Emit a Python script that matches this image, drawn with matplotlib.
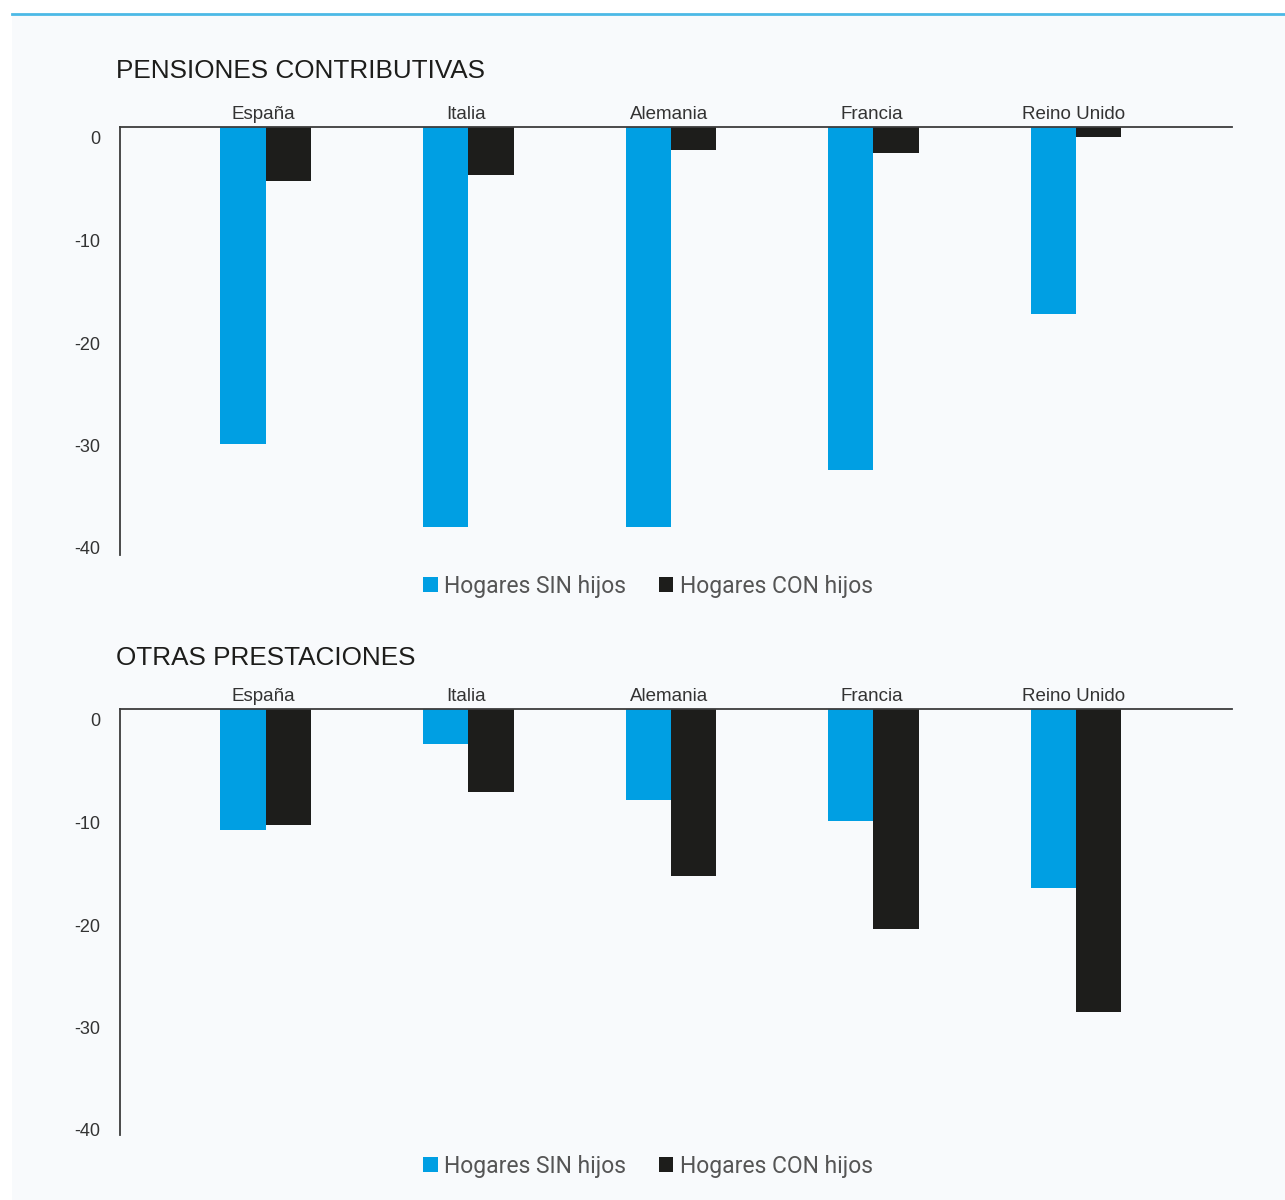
import matplotlib
matplotlib.use("Agg")
import matplotlib.pyplot as plt
import matplotlib.transforms as mtransforms
from matplotlib.patches import Patch, Rectangle
from matplotlib.lines import Line2D
import numpy as np

countries = ["España", "Italia", "Alemania", "Francia", "Reino Unido"]
series_names = ["Hogares SIN hijos", "Hogares CON hijos"]

pensiones_sin = [-30.9, -39.0, -39.0, -33.5, -18.2]
pensiones_con = [-5.3, -4.7, -2.2, -2.5, -0.95]

otras_sin = [-11.8, -3.4, -8.9, -10.9, -17.5]
otras_con = [-11.3, -8.1, -16.3, -21.5, -29.6]

panel_titles = ["PENSIONES CONTRIBUTIVAS", "OTRAS PRESTACIONES"]
y_ticks = [0, -10, -20, -30, -40]

BLUE = "#009fe3"
BLACK = "#1d1d1b"
PANEL_BG = "#f8fafc"
TEXT = "#1d1d1b"

W, H = 1285, 1200
fig = plt.figure(figsize=(W / 100, H / 100), dpi=100, facecolor="white")

# background panel and top accent line
fig.patches.append(Rectangle((12 / W, 0), 1 - 12 / W, 1 - 15 / H,
                             transform=fig.transFigure, facecolor=PANEL_BG,
                             edgecolor="none", zorder=-5))
fig.lines.append(Line2D([12 / W, 1], [1 - 14 / H, 1 - 14 / H],
                        transform=fig.transFigure, color="#4cb9e6", lw=2,
                        zorder=-4))

main_font = ["Liberation Sans", "DejaVu Sans"]
legend_font = ["Roboto", "DejaVu Sans"]

panels = [
    (pensiones_sin, pensiones_con, 127, 555, 78),
    (otras_sin, otras_con, 709, 1135, 665),
]

x = np.arange(len(countries))
bw = 0.224
px_per_unit = 10.25

for (sin_vals, con_vals, top_px, bot_px, title_px), title in zip(panels, panel_titles):
    ax = fig.add_axes([120 / W, 1 - bot_px / H, (1232 - 120) / W, (bot_px - top_px) / H])
    ax.set_facecolor("none")
    ax.bar(x - bw / 2, sin_vals, bw, color=BLUE, zorder=2)
    ax.bar(x + bw / 2, con_vals, bw, color=BLACK, zorder=2)
    ax.set_xlim(-0.72, 4.77)
    ax.set_ylim(-(bot_px - top_px) / px_per_unit, 0)

    for s in ["right", "bottom"]:
        ax.spines[s].set_visible(False)
    for s in ["top", "left"]:
        ax.spines[s].set_color("#3c3c3c")
        ax.spines[s].set_linewidth(1.3)
        ax.spines[s].set_zorder(3)

    ax.set_xticks([])
    ax.set_yticks(y_ticks)
    ax.set_yticklabels([str(t) for t in y_ticks], family=main_font,
                       fontsize=13, color="#333333")
    ax.tick_params(axis="y", length=0, pad=14)
    offset = mtransforms.ScaledTranslation(0, -11 / 100, fig.dpi_scale_trans)
    for lab in ax.get_yticklabels():
        lab.set_transform(lab.get_transform() + offset)

    for i, name in enumerate(countries):
        ax.annotate(name, (i, 0), xytext=(-1.5, 6), textcoords="offset points",
                    ha="center", va="baseline", fontsize=13.5,
                    family=main_font, color="#333333", annotation_clip=False)

    fig.text(116 / W, 1 - title_px / H, title, ha="left", va="baseline",
             fontsize=18.8, family=main_font, color=TEXT)

    handles = [Patch(facecolor=BLUE, edgecolor="none"),
               Patch(facecolor=BLACK, edgecolor="none")]
    leg = fig.legend(handles, series_names, loc="center",
                     bbox_to_anchor=(648 / W, 1 - (bot_px + 31) / H),
                     ncol=2, frameon=False, handlelength=0.65, handleheight=0.65,
                     handletextpad=0.3, columnspacing=1.4,
                     prop={"family": legend_font, "size": 16.5})
    for t in leg.get_texts():
        t.set_color("#555555")

fig.savefig("out.png", dpi=100, facecolor="white")
